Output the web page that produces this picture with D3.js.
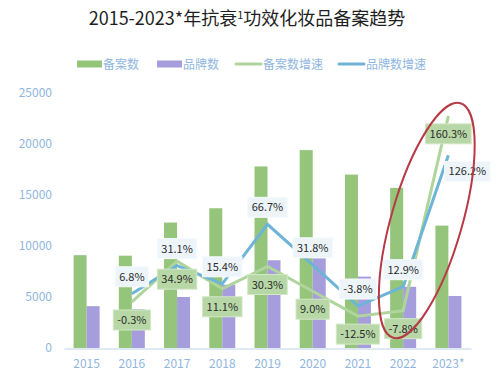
<!DOCTYPE html>
<html>
<head>
<meta charset="utf-8">
<script src="https://cdn.jsdelivr.net/npm/d3@7"></script>
<style>
  body { margin: 0; background: #fff; }
  text { font-family: "Noto Sans CJK SC", "Noto Sans", sans-serif; }
</style>
</head>
<body>
<div id="chart"></div>
<script>
// chart data
const years = ["2015", "2016", "2017", "2018", "2019", "2020", "2021", "2022", "2023*"];
const filings = [9100, 9050, 12300, 13700, 17800, 19400, 17000, 15700, 12000];
const brands = [4100, 3800, 5000, 6200, 8600, 8800, 7000, 6000, 5100];
// growth rates start from 2016
const growthYears = ["2016", "2017", "2018", "2019", "2020", "2021", "2022", "2023*"];
const filingGrowth = [-0.3, 34.9, 11.1, 30.3, 9.0, -12.5, -7.8, 160.3];
const brandGrowth = [6.8, 31.1, 15.4, 66.7, 31.8, -3.8, 12.9, 126.2];
const yTicks = [0, 5000, 10000, 15000, 20000, 25000];

const WIDTH = 500, HEIGHT = 380;
const C_GREEN = "#95c47b", C_PURPLE = "#a69ddc", C_LGREEN = "#afd59c", C_BLUE = "#6db4d7";
const C_AXIS = "#8fb6e0";

const svg = d3.select("#chart").append("svg")
  .attr("width", WIDTH).attr("height", HEIGHT);

// scales
const x = d3.scaleBand().domain(years).range([64, 471]);
const y = d3.scaleLinear().domain([0, 25000]).range([348, 93]);
const y2 = d3.scaleLinear().domain([-40, 180]).range([348, 93]); // hidden right axis
const barW = 13;
const pct = v => v.toFixed(1) + "%"; // keep plain hyphen for negatives

// title
const title = svg.append("text")
  .attr("x", 247).attr("y", 25)
  .attr("text-anchor", "middle")
  .attr("font-size", 18).attr("fill", "#1f1f1f");
title.append("tspan").text("2015-2023*年抗衰");
title.append("tspan").attr("font-size", 11).attr("dy", -6).text("1");
title.append("tspan").attr("dy", 6).text("功效化妆品备案趋势");

// legend
const legend = [
  {name: "备案数", type: "rect", color: C_GREEN, x: 77},
  {name: "品牌数", type: "rect", color: C_PURPLE, x: 157},
  {name: "备案数增速", type: "line", color: C_LGREEN, x: 235},
  {name: "品牌数增速", type: "line", color: C_BLUE, x: 338},
];
const lg = svg.append("g").selectAll("g").data(legend).join("g")
  .attr("transform", d => `translate(${d.x},64)`);
lg.filter(d => d.type === "rect").append("rect")
  .attr("x", 0).attr("y", -3.5).attr("width", 25).attr("height", 7)
  .attr("fill", d => d.color);
lg.filter(d => d.type === "line").append("line")
  .attr("x1", 1).attr("x2", 26).attr("y1", 0).attr("y2", 0)
  .attr("stroke", d => d.color).attr("stroke-width", 3).attr("stroke-linecap", "round");
lg.append("text")
  .attr("x", d => d.type === "rect" ? 26 : 28).attr("y", 4.5)
  .attr("font-size", 12).attr("fill", C_AXIS)
  .text(d => d.name);

// y axis (labels only)
const yAxis = svg.append("g")
  .attr("transform", "translate(52,0)")
  .call(d3.axisLeft(y).tickValues(yTicks).tickFormat(d3.format("d")).tickSize(0).tickPadding(0));
yAxis.select(".domain").remove();
yAxis.selectAll("text").attr("font-size", 12).attr("fill", C_AXIS)
  .attr("font-family", "Noto Sans CJK SC, Noto Sans, sans-serif");

// x axis
const xAxis = svg.append("g")
  .attr("transform", "translate(0,348.5)")
  .call(d3.axisBottom(x).tickSize(0).tickPadding(11));
xAxis.select(".domain").attr("stroke", "#d3e2f2").attr("stroke-width", 1.5);
xAxis.selectAll("text").attr("font-size", 12).attr("fill", C_AXIS)
  .attr("font-family", "Noto Sans CJK SC, Noto Sans, sans-serif");

// bars
const cx = d => x(d) + x.bandwidth() / 2;
svg.append("g").selectAll("rect").data(years).join("rect")
  .attr("x", (d) => cx(d) - barW)
  .attr("y", (d, i) => y(filings[i]))
  .attr("width", barW)
  .attr("height", (d, i) => y(0) - y(filings[i]))
  .attr("fill", C_GREEN);
svg.append("g").selectAll("rect").data(years).join("rect")
  .attr("x", (d) => cx(d))
  .attr("y", (d, i) => y(brands[i]))
  .attr("width", barW)
  .attr("height", (d, i) => y(0) - y(brands[i]))
  .attr("fill", C_PURPLE);

// growth lines
const line = d3.line().x(d => cx(d[0])).y(d => y2(d[1]));
const greenPts = growthYears.map((yr, i) => [yr, filingGrowth[i]]);
const bluePts = growthYears.map((yr, i) => [yr, brandGrowth[i]]);
svg.append("path").datum(greenPts).attr("d", line)
  .attr("fill", "none").attr("stroke", C_LGREEN).attr("stroke-width", 3);
svg.append("path").datum(bluePts).attr("d", line)
  .attr("fill", "none").attr("stroke", C_BLUE).attr("stroke-width", 3);

// data labels
function addLabel(px, py, txt, fill, stroke) {
  const g = svg.append("g").attr("transform", `translate(${px},${py})`);
  const t = g.append("text").attr("text-anchor", "middle").attr("y", 4)
    .attr("font-size", 11).attr("fill", "#2b2b2b").text(txt);
  const w = t.node().getComputedTextLength() + 8;
  g.insert("rect", "text")
    .attr("x", -w / 2).attr("y", -10).attr("width", w).attr("height", 20)
    .attr("fill", fill).attr("stroke", stroke).attr("stroke-width", 1);
}
greenPts.forEach(d => {
  addLabel(cx(d[0]), y2(d[1]) + 18, pct(d[1]), "#b7d8a6", "#d2e8c6");
});
bluePts.forEach((d, i) => {
  const last = i === bluePts.length - 1;
  addLabel(cx(d[0]) + (last ? 19 : 0), y2(d[1]) + (last ? 16 : -17),
    pct(d[1]), "#edf5fa", "#f6fafd");
});

// highlight ellipse round 2022-2023
const ex = (cx("2022") + cx("2023*")) / 2 + 1;
svg.append("ellipse")
  .attr("cx", 0).attr("cy", 0).attr("rx", 35.5).attr("ry", 122)
  .attr("transform", `translate(${ex},${y2(70)}) rotate(16)`)
  .attr("fill", "none").attr("stroke", "#b83a46").attr("stroke-width", 2);
</script>
</body>
</html>
